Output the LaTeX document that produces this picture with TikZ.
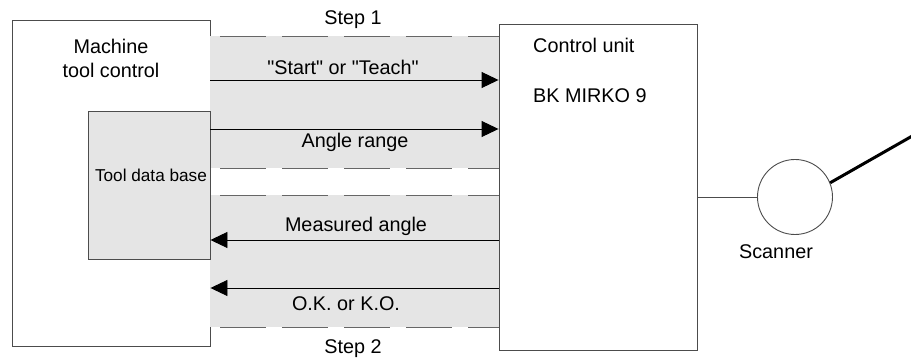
\documentclass[tikz,border=0pt]{standalone}
\usepackage{fontspec}
\setmainfont{Liberation Sans}
\usetikzlibrary{arrows.meta, positioning, calc}
\tikzset{
  unitbox/.style={rectangle,draw=black!70,line width=0.9pt,fill=white,inner sep=0pt},
  dbbox/.style={rectangle,draw=black!70,line width=0.9pt,fill=gray!20,inner sep=0pt},
  lbl/.style={font=\fontsize{19.8}{24}\selectfont,inner sep=0pt,align=center},
  smalllbl/.style={font=\fontsize{17.2}{20}\selectfont,inner sep=0pt},
  arrow/.style={-{Triangle[length=17pt,width=16pt]},line width=0.9pt,draw=black},
  dashline/.style={draw=black!60,line width=0.9pt,dash pattern=on 46pt off 16pt,dash phase=52pt},
  bandfill/.style={fill=gray!20},
  wire/.style={draw=black!70,line width=0.9pt}
}

\begin{document}
\begin{tikzpicture}[x=1pt,y=-1pt]
  \useasboundingbox (0,0) rectangle (911,358);

  % boxes
  \node[unitbox, minimum width=198pt, minimum height=326pt] (mtc) at (111,183) {};
  \node[unitbox, minimum width=198pt, minimum height=326pt] (cu) at (598,187) {};

  % exchange bands
  \fill[bandfill] (mtc.east |- 0,36) rectangle (cu.west |- 0,168);
  \fill[bandfill] (mtc.east |- 0,195) rectangle (cu.west |- 0,327);
  \draw[dashline] (mtc.east |- 0,36) -- (cu.west |- 0,36);
  \draw[dashline] (mtc.east |- 0,168) -- (cu.west |- 0,168);
  \draw[dashline] (mtc.east |- 0,195) -- (cu.west |- 0,195);
  \draw[dashline] (mtc.east |- 0,327) -- (cu.west |- 0,327);

  \node[dbbox, minimum width=122pt, minimum height=148pt] (tdb) at (149,185) {};
  \node[smalllbl, anchor=base] (tdbtext) at (151,182) {Tool data base};

  \node[lbl, anchor=north] (mtctext) at (111,39) {Machine\\tool control};
  \node[lbl, anchor=base west] (cutitle) at (533,53) {Control unit};
  \node[lbl, anchor=base west] (cuname) at (533,103) {BK MIRKO 9};

  % signals
  \draw[arrow] (mtc.east |- 0,80) -- (cu.west |- 0,80);
  \draw[arrow] (mtc.east |- 0,129) -- (cu.west |- 0,129);
  \draw[arrow] (cu.west |- 0,240) -- (mtc.east |- 0,240);
  \draw[arrow] (cu.west |- 0,288) -- (mtc.east |- 0,288);

  \node[lbl, anchor=base] (step1) at (353,25) {Step 1};
  \node[lbl, anchor=base] (startlbl) at (343,75) {\textquotedbl Start\textquotedbl{} or \textquotedbl Teach\textquotedbl};
  \node[lbl, anchor=base] (rangelbl) at (355,148) {Angle range};
  \node[lbl, anchor=base] (measlbl) at (356,232) {Measured angle};
  \node[lbl, anchor=base] (oklbl) at (346,311) {O.K. or K.O.};
  \node[lbl, anchor=base] (step2) at (353,353) {Step 2};

  % scanner
  \node[circle, draw=black!70, line width=0.9pt, minimum size=75pt, inner sep=0pt] (scan) at (795,197) {};
  \draw[wire] (cu.east |- scan) -- (scan.west);
  \node[lbl, anchor=base] (scanlbl) at (776,259) {Scanner};
  \coordinate (probe) at (914,135);
  \draw[line width=3pt] (scan.22) -- (probe);
\end{tikzpicture}
\end{document}
